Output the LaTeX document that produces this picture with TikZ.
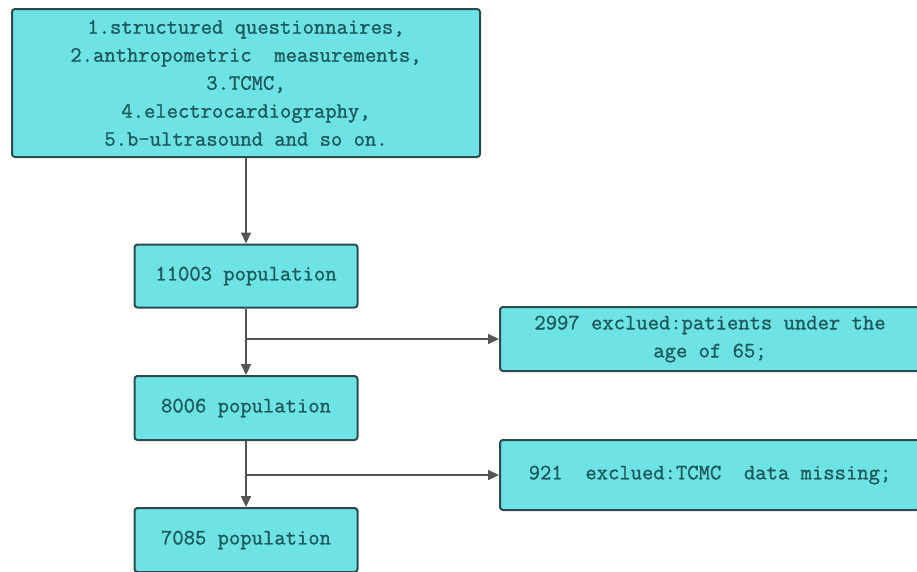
\documentclass[tikz,border=0pt]{standalone}
\usepackage{fontspec}
\newfontfamily\boxfont{Latin Modern Mono}[FakeBold=1.2]
\usetikzlibrary{arrows.meta}
\definecolor{boxfill}{HTML}{6DE3E6}
\definecolor{boxline}{HTML}{2B4B4C}
\definecolor{boxtext}{HTML}{1E5A5C}
\definecolor{arrline}{HTML}{555555}
\tikzset{
  box/.style={draw=boxline,fill=boxfill,line width=2pt,rounded corners=3pt,
    text=boxtext,align=center,inner sep=0pt,font=\boxfont\fontsize{22}{28}\selectfont},
  flow/.style={draw=arrline,line width=2pt,-{Triangle[length=11pt,width=10pt]}}
}
\begin{document}
\begin{tikzpicture}[x=1pt,y=-1pt,line join=round]
  \useasboundingbox (0,0) rectangle (917,571);
  \node[box,minimum width=468pt,minimum height=148pt] (survey) at (246,83)
    {1.structured questionnaires,\\2.anthropometric\ \ measurements,\\3.TCMC,\\4.electrocardiography,\\5.b-ultrasound and so on.};
  \node[box,minimum width=223pt,minimum height=63pt] (pop1) at (246,276) {11003 population};
  \node[box,minimum width=223pt,minimum height=64pt] (pop2) at (246,408) {8006 population};
  \node[box,minimum width=223pt,minimum height=64pt] (pop3) at (246,540) {7085 population};
  \node[box,minimum width=420pt,minimum height=64pt] (excl1) at (710,339) {2997 exclued:patients under the\\age of 65;};
  \node[box,minimum width=420pt,minimum height=70pt] (excl2) at (710,475) {921\ \ exclued:TCMC\ \ data missing;};
  \draw[flow] (survey) -- (pop1);
  \draw[flow] (pop1) -- (pop2);
  \draw[flow] (pop2) -- (pop3);
  \draw[flow] (pop1.south |- excl1.west) -- (excl1.west);
  \draw[flow] (pop2.south |- excl2.west) -- (excl2.west);
\end{tikzpicture}
\end{document}
